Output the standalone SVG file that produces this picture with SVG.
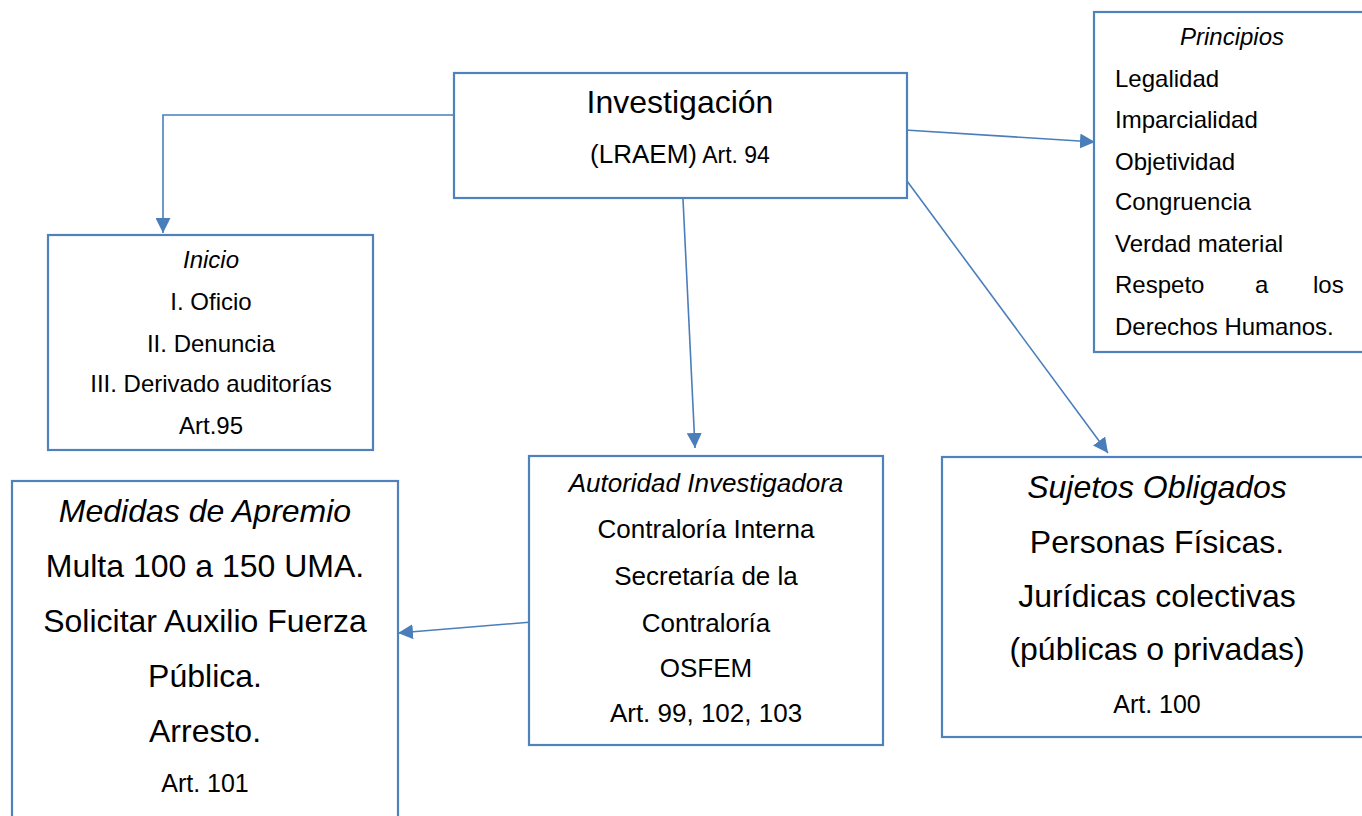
<svg xmlns="http://www.w3.org/2000/svg" width="1362" height="816" viewBox="0 0 1362 816">
<defs>
<style>
.box{fill:#fff;stroke:#4F81BD;stroke-width:2.2}
.con{fill:none;stroke:#4A7EBB;stroke-width:1.6}
text{font-family:"Liberation Sans",Arial,sans-serif;fill:#000}
.c{text-anchor:middle}
.it{font-style:italic}
</style>
<marker id="ah" markerUnits="userSpaceOnUse" markerWidth="16" markerHeight="15" refX="15" refY="7.5" orient="auto">
<path d="M0,0 L15,7.5 L0,15 Z" fill="#4A7EBB"/>
</marker>
</defs>
<rect width="1362" height="816" fill="#fff"/>

<g id="connectors">
<path class="con" d="M454,115 H163 V233" marker-end="url(#ah)"/>
<path class="con" d="M683,199 L695,448" marker-end="url(#ah)"/>
<path class="con" d="M905,130 L1095,142" marker-end="url(#ah)"/>
<path class="con" d="M907,181 L1108,453" marker-end="url(#ah)"/>
<path class="con" d="M532,622 L398,633" marker-end="url(#ah)"/>
</g>

<g id="investigacion">
<rect class="box" x="454" y="73" width="453" height="125"/>
<text class="c" x="680" y="113" font-size="32">Investigación</text>
<text class="c" x="680" y="163"><tspan font-size="26">(LRAEM)</tspan><tspan font-size="23"> Art. 94</tspan></text>
</g>

<g id="principios">
<rect class="box" x="1094" y="12" width="280" height="340"/>
<text class="c it" x="1232" y="45" font-size="24">Principios</text>
<g font-size="24">
<text x="1115" y="87">Legalidad</text>
<text x="1115" y="128">Imparcialidad</text>
<text x="1115" y="170">Objetividad</text>
<text x="1115" y="210">Congruencia</text>
<text x="1115" y="252">Verdad material</text>
<text y="293"><tspan x="1115">Respeto</tspan><tspan x="1255">a</tspan><tspan x="1313">los</tspan></text>
<text x="1115" y="335">Derechos Humanos.</text>
</g>
</g>

<g id="inicio" font-size="24">
<rect class="box" x="48" y="235" width="325" height="215"/>
<text class="c it" x="211" y="268">Inicio</text>
<text class="c" x="211" y="310">I. Oficio</text>
<text class="c" x="211" y="352">II. Denuncia</text>
<text class="c" x="211" y="392">III. Derivado auditorías</text>
<text class="c" x="211" y="434">Art.95</text>
</g>

<g id="medidas">
<rect class="box" x="12" y="481" width="386" height="350"/>
<text class="c it" x="205" y="522" font-size="32">Medidas de Apremio</text>
<text class="c" x="205" y="577" font-size="32">Multa 100 a 150 UMA.</text>
<text class="c" x="205" y="632" font-size="32">Solicitar Auxilio Fuerza</text>
<text class="c" x="205" y="687" font-size="32">Pública.</text>
<text class="c" x="205" y="742" font-size="32">Arresto.</text>
<text class="c" x="205" y="792" font-size="25">Art. 101</text>
</g>

<g id="autoridad" font-size="26">
<rect class="box" x="529" y="456" width="354" height="289"/>
<text class="c it" x="706" y="492">Autoridad Investigadora</text>
<text class="c" x="706" y="538">Contraloría Interna</text>
<text class="c" x="706" y="585">Secretaría de la</text>
<text class="c" x="706" y="632">Contraloría</text>
<text class="c" x="706" y="677">OSFEM</text>
<text class="c" x="706" y="722">Art. 99, 102, 103</text>
</g>

<g id="sujetos">
<rect class="box" x="942" y="457" width="430" height="280"/>
<text class="c it" x="1157" y="498" font-size="32">Sujetos Obligados</text>
<text class="c" x="1157" y="553" font-size="32">Personas Físicas.</text>
<text class="c" x="1157" y="607" font-size="32">Jurídicas colectivas</text>
<text class="c" x="1157" y="660" font-size="32">(públicas o privadas)</text>
<text class="c" x="1157" y="713" font-size="25">Art. 100</text>
</g>
</svg>
